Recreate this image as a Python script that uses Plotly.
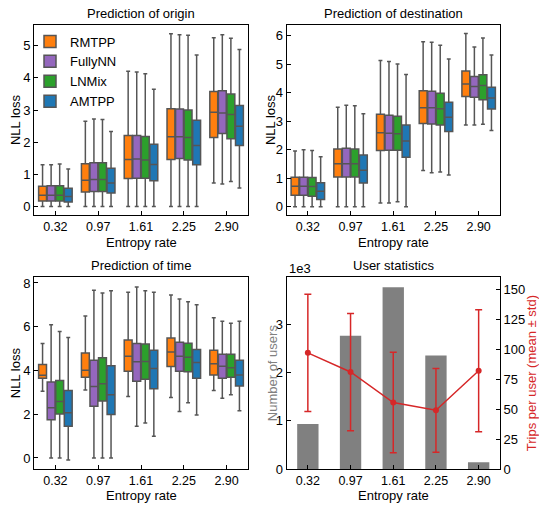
import plotly.graph_objects as go

categories = ["0.32", "0.97", "1.61", "2.25", "2.90"]
models = ["RMTPP", "FullyNN", "LNMix", "AMTPP"]
model_colors = ["#ff7f0e", "#9467bd", "#2ca02c", "#1f77b4"]

# Prediction of origin (rows: models, cols: entropy categories)
origin_low = [[0, 0, 0, 0, 0.73], [0, 0, 0, 0, 0.70], [0, 0, 0, 0, 0.78], [0, 0, 0, 0, 0.58]]
origin_q1 = [[0.17, 0.45, 0.87, 1.46, 2.15], [0.17, 0.47, 0.88, 1.49, 2.27],
             [0.17, 0.47, 0.88, 1.45, 2.11], [0.14, 0.42, 0.80, 1.30, 1.90]]
origin_med = [[0.35, 0.82, 1.46, 2.17, 2.93], [0.35, 0.84, 1.48, 2.17, 2.91],
              [0.35, 0.84, 1.45, 2.15, 2.86], [0.31, 0.73, 1.31, 1.90, 2.50]]
origin_q3 = [[0.63, 1.33, 2.21, 3.04, 3.58], [0.65, 1.36, 2.21, 3.03, 3.60],
             [0.65, 1.36, 2.18, 3.00, 3.50], [0.57, 1.19, 1.94, 2.68, 3.14]]
origin_high = [[1.30, 2.65, 4.21, 5.37, 5.25], [1.30, 2.72, 4.18, 5.34, 5.34],
               [1.32, 2.71, 4.13, 5.33, 5.23], [1.17, 2.33, 3.65, 4.71, 4.88]]

# Prediction of destination
dest_low = [[0, 0, 0.13, 1.27, 2.87], [0, 0, 0.13, 1.19, 2.87], [0, 0, 0.17, 1.22, 2.89], [0, 0, 0, 1.11, 2.67]]
dest_q1 = [[0.40, 1.04, 1.97, 2.92, 3.87], [0.40, 1.04, 1.98, 2.90, 3.84],
           [0.37, 1.04, 1.98, 2.87, 3.75], [0.25, 0.83, 1.73, 2.64, 3.43]]
dest_med = [[0.72, 1.51, 2.59, 3.47, 4.30], [0.72, 1.51, 2.58, 3.47, 4.22],
            [0.71, 1.51, 2.56, 3.44, 4.25], [0.54, 1.28, 2.30, 3.14, 3.81]]
dest_q3 = [[1.03, 2.02, 3.24, 4.07, 4.76], [1.03, 2.05, 3.21, 4.05, 4.57],
           [1.02, 2.02, 3.17, 3.98, 4.63], [0.84, 1.81, 2.87, 3.66, 4.19]]
dest_high = [[1.95, 3.49, 5.13, 5.79, 6.08], [2.00, 3.56, 5.09, 5.77, 5.60],
             [1.97, 3.54, 5.01, 5.66, 5.92], [1.75, 3.26, 4.64, 5.18, 5.32]]

# Prediction of time
time_low = [[3.05, 3.11, 2.81, 2.76, 3.08], [0, 0, 1.45, 2.13, 2.73],
            [0, 0, 1.60, 2.52, 2.89], [-0.09, 0, 0.99, 1.97, 2.16]]
time_q1 = [[3.64, 3.69, 3.96, 4.18, 3.79], [1.75, 2.37, 3.51, 3.97, 3.64],
           [2.01, 2.61, 3.60, 3.94, 3.69], [1.45, 1.99, 3.16, 3.64, 3.29]]
time_med = [[3.78, 4.01, 4.65, 4.84, 4.31], [2.30, 3.27, 4.40, 4.65, 4.19],
            [2.58, 3.39, 4.41, 4.61, 4.13], [2.07, 2.89, 4.09, 4.36, 3.79]]
time_q3 = [[4.27, 4.80, 5.39, 5.48, 4.93], [3.47, 4.47, 5.23, 5.29, 4.74],
           [3.54, 4.58, 5.21, 5.24, 4.74], [3.08, 4.22, 4.92, 4.96, 4.47]]
time_high = [[5.23, 6.49, 7.57, 7.45, 6.41], [6.09, 7.67, 7.82, 7.27, 6.25],
             [5.78, 7.54, 7.64, 7.14, 6.16], [5.51, 7.64, 7.58, 7.00, 6.25]]

# User statistics
users_thousands = [0.93, 2.76, 3.77, 2.35, 0.14]
trips_mean = [97, 81, 55.5, 49, 82]
trips_std = [49, 49, 42, 35, 51]

W, H = 539, 509
FONT = "Liberation Sans, Arial, sans-serif"
BOX_LINE = "#555555"


def px_x(a, b):
    return [a / W, b / W]


def px_y(top, bottom):
    return [(H - bottom) / H, (H - top) / H]


fig = go.Figure()

panels = [
    ("x", "y", "origin", origin_low, origin_q1, origin_med, origin_q3, origin_high, True),
    ("x2", "y2", "dest", dest_low, dest_q1, dest_med, dest_q3, dest_high, False),
    ("x3", "y3", "time", time_low, time_q1, time_med, time_q3, time_high, False),
]
for xa, ya, grp, lo, q1, med, q3, hi, show in panels:
    for i, m in enumerate(models):
        fig.add_trace(go.Box(
            x=categories, lowerfence=lo[i], q1=q1[i], median=med[i], q3=q3[i], upperfence=hi[i],
            name=m, legendgroup=m, showlegend=show, boxpoints=False,
            alignmentgroup=grp, offsetgroup=m,
            fillcolor=model_colors[i], line=dict(color=BOX_LINE, width=1.5),
            whiskerwidth=0.5, xaxis=xa, yaxis=ya, hoverinfo="skip",
        ))

fig.add_trace(go.Bar(x=categories, y=users_thousands, width=0.5, marker=dict(color="#808080", line=dict(width=0)),
                     xaxis="x4", yaxis="y4", showlegend=False))
fig.add_trace(go.Scatter(x=categories, y=trips_mean, mode="lines+markers",
                         line=dict(color="#d62728", width=1.5), marker=dict(color="#d62728", size=6),
                         error_y=dict(type="data", array=trips_std, color="#d62728", thickness=1.5, width=3.5),
                         xaxis="x4", yaxis="y5", showlegend=False))

axis_common = dict(showline=True, linecolor="black", linewidth=1, mirror=True, ticks="inside",
                   ticklen=4, tickcolor="black", showgrid=False, zeroline=False,
                   tickfont=dict(family=FONT, size=13, color="black"))
axis_nomirror = {k: v for k, v in axis_common.items() if k != "mirror"}
xaxis_common = dict(axis_common, tickfont=dict(family=FONT, size=12.5, color="black"))

xl = px_x(34, 248)
xr = px_x(286.5, 500)
yt = px_y(23.3, 217.5)
yb = px_y(281, 476.3)

fig.update_layout(
    width=W, height=H, margin=dict(l=0, r=0, t=0, b=0),
    paper_bgcolor="white", plot_bgcolor="white",
    font=dict(family=FONT, size=13, color="black"),
    boxmode="group", boxgap=0.2, boxgroupgap=0.08,
    xaxis=dict(domain=xl, anchor="y", type="category", range=[-0.5, 4.5], **xaxis_common),
    yaxis=dict(domain=yt, anchor="x", range=[-0.27, 5.65], tickvals=[0, 1, 2, 3, 4, 5], **axis_common),
    xaxis2=dict(domain=xr, anchor="y2", type="category", range=[-0.5, 4.5], **xaxis_common),
    yaxis2=dict(domain=yt, anchor="x2", range=[-0.30, 6.38], tickvals=[0, 1, 2, 3, 4, 5, 6], **axis_common),
    xaxis3=dict(domain=xl, anchor="y3", type="category", range=[-0.5, 4.5], **xaxis_common),
    yaxis3=dict(domain=yb, anchor="x3", range=[-0.5, 8.25], tickvals=[0, 2, 4, 6, 8], **axis_common),
    xaxis4=dict(domain=xr, anchor="y4", type="category", range=[-0.5, 4.5], **xaxis_common),
    yaxis4=dict(domain=yb, anchor="x4", range=[0, 3.97], tickvals=[0, 1, 2, 3], **axis_nomirror),
    yaxis5=dict(domain=yb, anchor="x4", overlaying="y4", side="right", range=[0, 160],
                tickvals=[0, 25, 50, 75, 100, 125, 150], **axis_nomirror),
    legend=dict(x=30 / W, y=1 - 25 / H, xanchor="left", yanchor="top", bgcolor="rgba(0,0,0,0)",
                font=dict(family=FONT, size=13), tracegroupgap=0, itemwidth=30),
)

ann = []


def label(text, x, y, color="black", **kw):
    ann.append(dict(text=text, x=x / W, y=1 - y / H, xref="paper", yref="paper", showarrow=False,
                    xanchor=kw.pop("xanchor", "center"), yanchor="middle",
                    font=dict(family=FONT, size=13, color=color), **kw))


label("Prediction of origin", (34 + 248) / 2, 12)
label("Prediction of destination", (286.5 + 500) / 2, 12)
label("Prediction of time", (34 + 248) / 2, 269)
label("User statistics", (286.5 + 500) / 2, 269)
label("Entropy rate", (34 + 248) / 2, 245)
label("Entropy rate", (286.5 + 500) / 2, 245)
label("Entropy rate", (34 + 248) / 2, 503.5)
label("Entropy rate", (286.5 + 500) / 2, 503.5)
label("NLL loss", 15, (23.3 + 217.5) / 2, textangle=-90)
label("NLL loss", 270, (23.3 + 217.5) / 2, textangle=-90)
label("NLL loss", 15, (281 + 476.3) / 2, textangle=-90)
label("Number of users", 272, (281 + 476.3) / 2, textangle=-90, color="#808080")
label("Trips per user (mean ± std)", 531, (281 + 476.3) / 2, textangle=-90, color="#d62728")
label("1e3", 287, 272, xanchor="left")
fig.update_layout(annotations=ann)

fig.write_html("out.html", post_script="document.body.style.margin='0';",
               config={"displayModeBar": False})
